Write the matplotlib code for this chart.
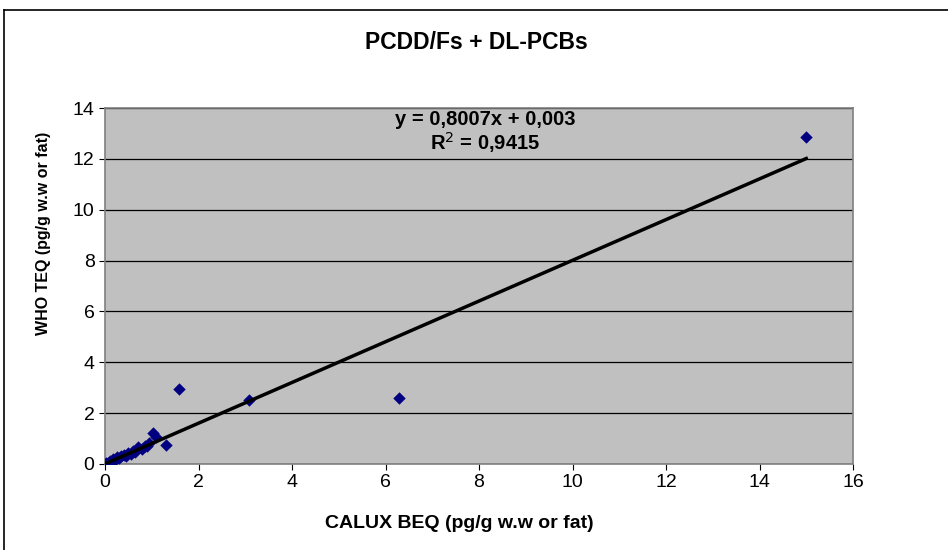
import matplotlib
matplotlib.use('Agg')
import matplotlib.pyplot as plt
import numpy as np

plt.rcParams['font.family'] = ['Liberation Sans', 'DejaVu Sans']

# CALUX BEQ vs WHO TEQ (pg/g)
calux = [0.03, 0.06, 0.1, 0.14, 0.18, 0.22, 0.26, 0.3, 0.35, 0.4, 0.45, 0.5,
         0.55, 0.6, 0.65, 0.7, 0.8, 0.85, 0.9, 0.95, 1.03, 1.08, 1.3,
         1.58, 3.08, 6.28, 15.0]
who = [0.02, 0.05, 0.1, 0.12, 0.2, 0.15, 0.28, 0.22, 0.3, 0.36, 0.32, 0.45,
       0.4, 0.52, 0.48, 0.65, 0.6, 0.7, 0.72, 0.82, 1.2, 1.08, 0.75,
       2.93, 2.52, 2.6, 12.87]

slope = 0.8007
intercept = 0.003
fit_x = np.array([0, max(calux)])

fig = plt.figure(figsize=(9.48, 5.5), dpi=100)
ax = fig.add_axes([0.1108, 0.1564, 0.789, 0.6472])
ax.set_facecolor('#C0C0C0')

ax.scatter(calux, who, marker='D', s=40, color='#000080', zorder=3, linewidths=0)
ax.plot(fit_x, slope * fit_x + intercept, color='black', lw=2.5, zorder=4)

ax.set_xlim(0, 16)
ax.set_ylim(0, 14)
ax.set_xticks(range(0, 17, 2))
ax.set_yticks(range(0, 15, 2))
ax.yaxis.grid(True, color='black', lw=0.9)
ax.set_axisbelow(True)
for s in ax.spines.values():
    s.set_color('#808080')
    s.set_linewidth(1.2)
ax.tick_params(labelsize=14, length=4, color='black')

# axis titles placed like the original chart (not centred on the axes)
fig.text(0.485, 0.049, 'CALUX BEQ (pg/g w.w or fat)', ha='center', va='center',
         fontsize=14, fontweight='bold')
fig.text(0.046, 0.576, 'WHO TEQ (pg/g w.w or fat)', ha='center', va='center',
         rotation=90, fontsize=11.5, fontweight='bold')

fig.text(0.503, 0.923, 'PCDD/Fs + DL-PCBs', ha='center', va='center',
         fontsize=16.5, fontweight='bold')
ax.text(0.508, 0.995, 'y = 0,8007x + 0,003\nR$^2$ = 0,9415', transform=ax.transAxes,
        ha='center', va='top', fontsize=14.5, fontweight='bold', linespacing=1.05)

# outer chart border (top and left visible)
fig.add_artist(plt.Line2D([0.004, 1.0], [0.982, 0.982], color='black', lw=1.2))
fig.add_artist(plt.Line2D([0.004, 0.004], [0.0, 0.982], color='black', lw=1.2))

fig.savefig('out.png', dpi=100)
